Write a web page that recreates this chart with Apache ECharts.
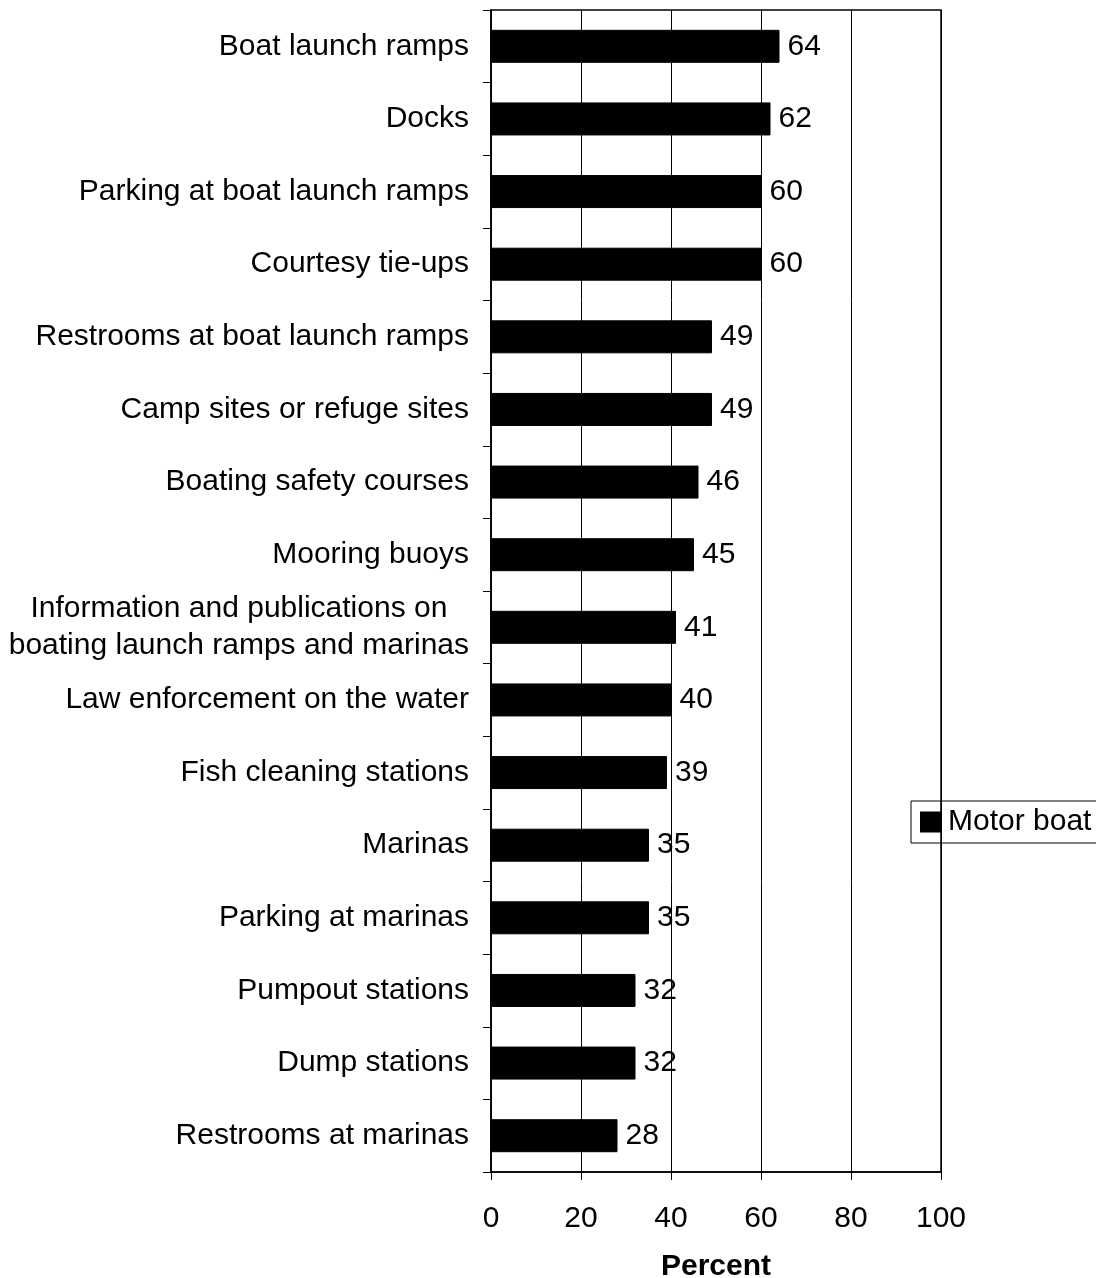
<!DOCTYPE html>
<html>
<head>
<meta charset="utf-8">
<script src="https://cdn.jsdelivr.net/npm/echarts@6/dist/echarts.min.js"></script>
<style>html,body{margin:0;padding:0;background:#fff;}#c{width:1096px;height:1278px;}</style>
</head>
<body>
<div id="c"></div>
<script>
const categories = [
  "Boat launch ramps",
  "Docks",
  "Parking at boat launch ramps",
  "Courtesy tie-ups",
  "Restrooms at boat launch ramps",
  "Camp sites or refuge sites",
  "Boating safety courses",
  "Mooring buoys",
  "Information and publications on\nboating launch ramps and marinas",
  "Law enforcement on the water",
  "Fish cleaning stations",
  "Marinas",
  "Parking at marinas",
  "Pumpout stations",
  "Dump stations",
  "Restrooms at marinas"
];
const motorBoat = [64, 62, 60, 60, 49, 49, 46, 45, 41, 40, 39, 35, 35, 32, 32, 28];
const seriesName = "Motor boat";
const xTicks = [0, 20, 40, 60, 80, 100];

const FONT = "Liberation Sans, Arial, sans-serif";
const FS = 30;
const chart = echarts.init(document.getElementById('c'), null, {renderer: 'canvas'});
chart.setOption({
  animation: false,
  backgroundColor: '#fff',
  grid: {left: 491, right: 155, top: 10, bottom: 106, containLabel: false, outerBoundsMode: 'none',
         show: true, borderColor: '#000', borderWidth: 1.5, backgroundColor: 'transparent'},
  legend: {
    data: [seriesName], left: 911, top: 801, orient: 'vertical',
    icon: 'rect', itemWidth: 21, itemHeight: 21, itemGap: 0,
    borderColor: '#000', borderWidth: 1, padding: [6, 14, 6, 9],
    textStyle: {fontFamily: FONT, fontSize: FS, color: '#000', padding: [0, 0, 0, 2]}
  },
  xAxis: {
    type: 'value', min: xTicks[0], max: xTicks[xTicks.length - 1], interval: 20,
    name: 'Percent', nameLocation: 'middle', nameGap: 80, nameMoveOverlap: false,
    nameTextStyle: {fontFamily: FONT, fontSize: FS, fontWeight: 'bold', color: '#000'},
    axisLine: {show: true, lineStyle: {color: '#000', width: 1.5}},
    axisTick: {show: true, length: 8, lineStyle: {color: '#000', width: 1}},
    axisLabel: {fontFamily: FONT, fontSize: FS, color: '#000', margin: 32},
    splitLine: {show: true, lineStyle: {color: '#000', width: 1}}
  },
  yAxis: {
    type: 'category', data: categories, inverse: true,
    axisLine: {show: true, lineStyle: {color: '#000', width: 1.5}},
    axisTick: {show: true, length: 8, lineStyle: {color: '#000', width: 1}},
    axisLabel: {fontFamily: FONT, fontSize: FS, color: '#000', margin: 22, lineHeight: 37,
      formatter: function (v) {
        if (v.indexOf('\n') >= 0) {
          return v.split('\n').map(function (s) { return '{c|' + s + '}'; }).join('\n');
        }
        return v;
      },
      rich: {c: {fontFamily: FONT, fontSize: FS, color: '#000', align: 'center', lineHeight: 37}}
    }
  },
  series: [{
    name: seriesName, type: 'bar', data: motorBoat, barWidth: 32,
    itemStyle: {color: '#000', borderColor: '#000'},
    label: {show: true, position: 'right', distance: 8, fontFamily: FONT, fontSize: FS, color: '#000'}
  }]
});
</script>
</body>
</html>
